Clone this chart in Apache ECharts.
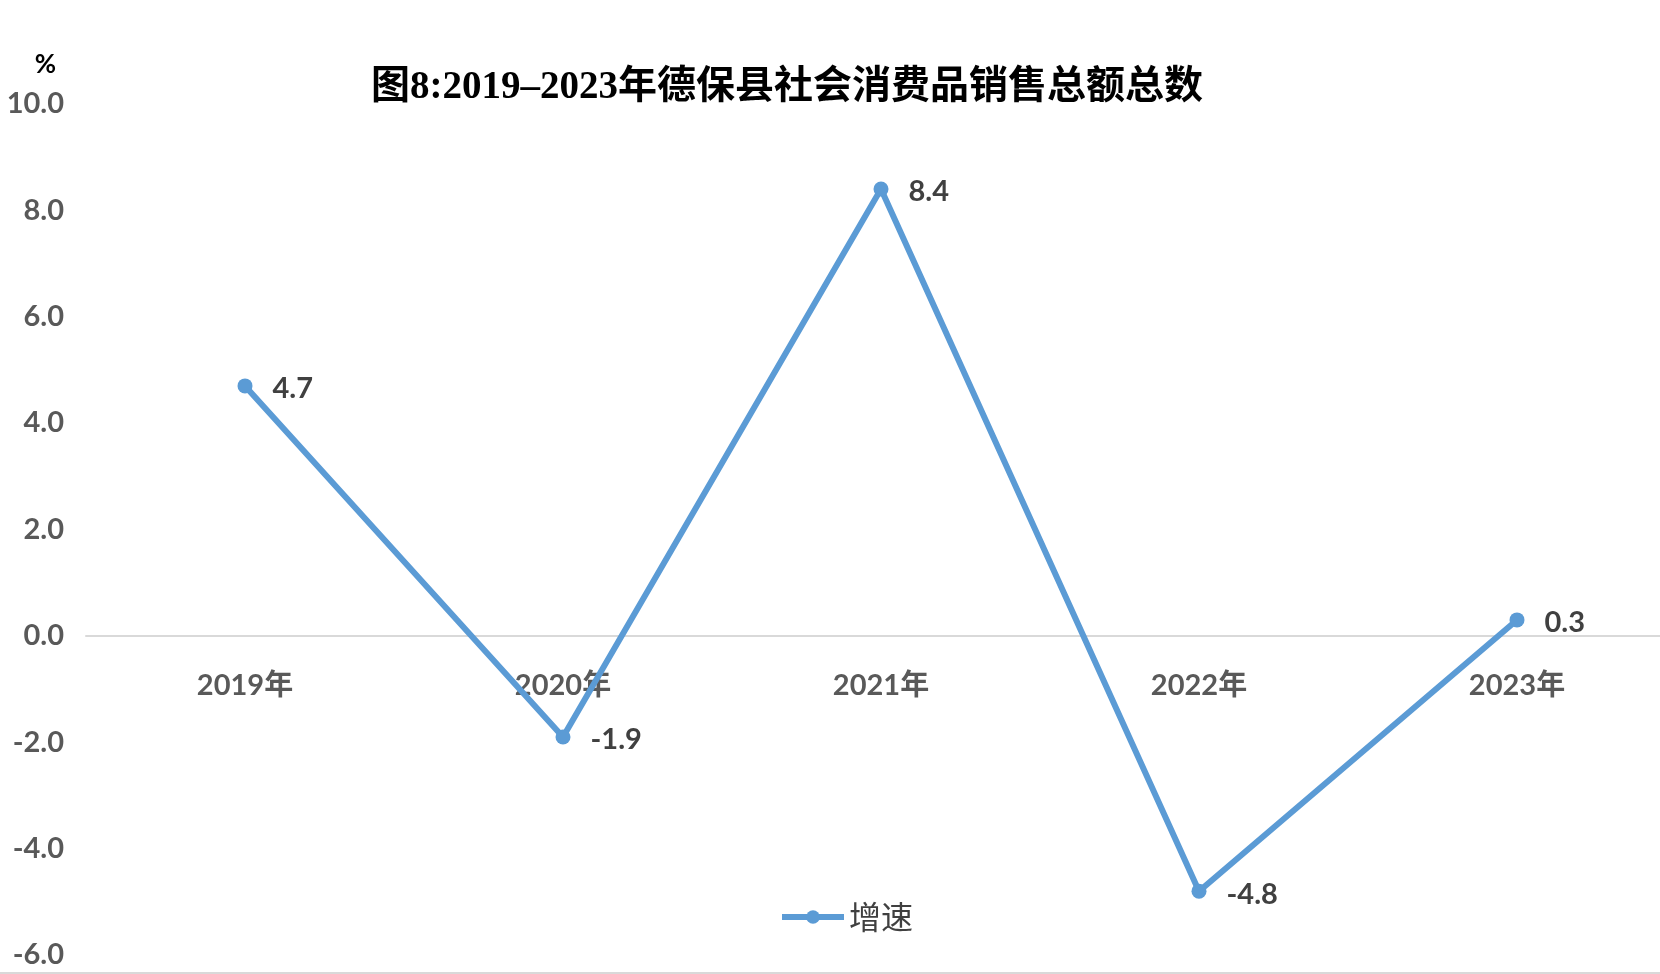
<!DOCTYPE html>
<html>
<head>
<meta charset="utf-8">
<script src="https://cdn.jsdelivr.net/npm/echarts@6/dist/echarts.min.js"></script>
<style>html,body{margin:0;padding:0;background:#fff;}#c{width:1660px;height:974px;}</style>
</head>
<body>
<div id="c"></div>
<script>
const titleText = '图8:2019–2023年德保县社会消费品销售总额总数';
const categories = ['2019年', '2020年', '2021年', '2022年', '2023年'];
const growth = [4.7, -1.9, 8.4, -4.8, 0.3];
const seriesName = '增速';
const yUnit = '%';
const yMin = -6, yMax = 10, yStep = 2;

const W = 1660, H = 974;
const gridTop = 104, gridBottom = 19;
const plotH = H - gridTop - gridBottom;
// move the category axis (line + labels) up to the value 0
const zeroOffset = -plotH * (0 - yMin) / (yMax - yMin);

const chart = echarts.init(document.getElementById('c'));
chart.setOption({
  backgroundColor: '#fff',
  animation: false,
  title: {
    text: titleText,
    left: 366,
    top: 63,
    textStyle: {
      fontFamily: '"Liberation Serif", "Noto Sans CJK SC", serif',
      fontWeight: 'bold',
      fontSize: 39,
      color: '#000'
    }
  },
  legend: {
    data: [seriesName],
    left: 774,
    top: 896,
    itemWidth: 62,
    itemHeight: 17,
    itemGap: 10,
    lineStyle: { width: 6 },
    textStyle: {
      fontFamily: '"Noto Sans CJK SC", serif',
      fontSize: 32,
      color: '#404040'
    }
  },
  grid: { left: 86, right: -16, top: gridTop, bottom: gridBottom, containLabel: false, outerBoundsMode: 'none' },
  xAxis: {
    type: 'category',
    data: categories,
    boundaryGap: true,
    offset: zeroOffset,
    axisLine: { onZero: false, lineStyle: { color: '#D9D9D9', width: 2 } },
    axisTick: { show: false },
    axisLabel: {
      margin: 35,
      fontFamily: 'Lato, "Noto Sans CJK SC", sans-serif',
      fontWeight: 'bold',
      fontSize: 29,
      color: '#595959'
    }
  },
  yAxis: {
    type: 'value',
    min: yMin,
    max: yMax,
    interval: yStep,
    name: yUnit,
    nameLocation: 'end',
    nameGap: 26,
    nameTextStyle: {
      align: 'right',
      padding: [0, 30, 0, 0],
      fontFamily: 'Lato, sans-serif',
      fontWeight: 'bold',
      fontSize: 26,
      color: '#000'
    },
    axisLine: { show: false },
    axisTick: { show: false },
    splitLine: { show: false },
    axisLabel: {
      margin: 22,
      formatter: v => v.toFixed(1),
      fontFamily: 'Lato, sans-serif',
      fontWeight: 'bold',
      fontSize: 29,
      color: '#595959'
    }
  },
  graphic: [{
    type: 'rect', left: 0, bottom: 0,
    shape: { width: W, height: 2 },
    style: { fill: '#D9D9D9' }
  }],
  series: [{
    name: seriesName,
    type: 'line',
    data: growth,
    symbol: 'circle',
    symbolSize: 15,
    lineStyle: { color: '#5B9BD5', width: 6 },
    itemStyle: { color: '#5B9BD5' },
    label: {
      show: true,
      position: 'right',
      distance: 20,
      offset: [0, 3],
      formatter: p => p.value.toFixed(1),
      fontFamily: 'Lato, sans-serif',
      fontWeight: 'bold',
      fontSize: 29,
      color: '#404040'
    }
  }]
});
</script>
</body>
</html>
